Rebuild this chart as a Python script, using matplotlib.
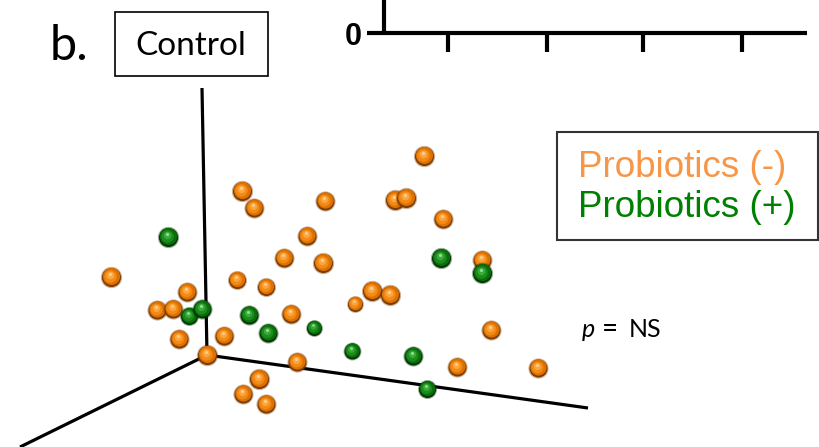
#!/usr/bin/env python3
"""PCoA panel b: Control group, probiotics (-) vs (+)."""

import matplotlib

matplotlib.use("Agg")
import matplotlib.pyplot as plt
from matplotlib.patches import Rectangle
from matplotlib.transforms import offset_copy

# projected PCoA positions (panel pixel space, y down)
neg_x = [242, 254, 325, 307, 284, 323, 111, 237, 266, 187, 157, 173, 291, 179, 224,
         207, 297, 424, 395, 406, 443, 482, 372, 390, 355, 491, 457, 538, 259, 243, 266]
neg_y = [191, 208, 201, 236, 258, 263, 277, 280, 287, 292, 310, 309, 314, 339, 336,
         355, 362, 156, 200, 198, 219, 260, 291, 295, 304, 330, 367, 368, 379, 394, 404]
neg_r = [9.5, 9, 9, 9, 9, 9.5, 9.5, 8.5, 8.5, 9, 9, 9, 9, 9, 9,
         9.5, 9, 9.5, 9.5, 9.5, 9, 9, 9.5, 9.5, 7.5, 9, 9, 9, 9.5, 9, 9]

pos_x = [168, 189, 202, 249, 314, 268, 441, 482, 352, 413, 427]
pos_y = [237, 316, 309, 315, 328, 333, 258, 273, 351, 356, 389]
pos_r = [9.5, 8.5, 9, 9, 7.5, 9, 9.5, 9.5, 8, 9, 8.5]

# 3D axis frame: origin and the three axis ends
axis_origin = (207, 355)
axis_ends = [(202, 88), (588, 408), (20, 447)]

# clipped bottom of the previous panel
prev_ticks = [448, 547, 643, 742]

ORANGE = ["#7a3a00", "#de7000", "#f28a16", "#fba640", "#ffd490"]
GREEN = ["#003300", "#0a6e0a", "#1c8c1c", "#3aaa3a", "#9ee29e"]


def sphere(ax, fig, x, y, r, shades, z):
    # layered discs fake the shaded ball look
    layers = [(1.12, shades[0], 0.0, 0.0, 0.4),
              (1.0, shades[0], 0.0, 0.0, 1.0),
              (0.9, shades[1], -0.3, 0.7, 1.0),
              (0.66, shades[2], -0.6, 1.5, 1.0),
              (0.4, shades[3], -0.8, 2.3, 1.0),
              (0.17, shades[4], -0.9, 3.0, 0.9)]
    for k, (scale, col, dx, dy, a) in enumerate(layers):
        tr = offset_copy(ax.transData, fig=fig, x=dx, y=dy, units="dots")
        d = 2 * r * scale * 0.72
        ax.scatter([x], [y], s=d ** 2, color=col, alpha=a, linewidths=0,
                   transform=tr, zorder=z + k * 0.01)


def main() -> int:
    fig = plt.figure(figsize=(8.19, 4.47), dpi=100)
    ax = fig.add_axes([0, 0, 1, 1])
    ax.set_xlim(0, 819)
    ax.set_ylim(447, 0)
    ax.axis("off")

    # previous panel remnant
    ax.plot([367, 807], [33, 33], color="black", lw=3, solid_capstyle="butt")
    ax.plot([384, 384], [0, 33], color="black", lw=3, solid_capstyle="butt")
    for t in prev_ticks:
        ax.plot([t, t], [33, 52], color="black", lw=3, solid_capstyle="butt")
    ax.text(362, 37, "0", fontsize=22, fontweight="bold", family="Liberation Sans",
            ha="right", va="center")

    ax.text(50, 60, "b.", fontsize=35, family="Lato", ha="left", va="baseline")
    ax.add_patch(Rectangle((115, 12), 153, 64, fill=False, ec="black", lw=1.2))
    ax.text(191, 46, "Control", fontsize=24, family="Lato", ha="center", va="center")

    ox, oy = axis_origin
    for ex, ey in axis_ends:
        ax.plot([ox, ex], [oy, ey], color="black", lw=2.3, solid_capstyle="butt", zorder=2)

    z = 3
    for x, y, r in zip(neg_x, neg_y, neg_r):
        sphere(ax, fig, x, y, r, ORANGE, z)
        z += 1
    for x, y, r in zip(pos_x, pos_y, pos_r):
        sphere(ax, fig, x, y, r, GREEN, z)
        z += 1

    ax.add_patch(Rectangle((557, 132), 261, 108, fill=False, ec="#333333", lw=1.5, zorder=1))
    ax.text(578, 177, "Probiotics (-)", fontsize=26.5, family="Liberation Sans",
            color="#f79646", va="baseline")
    ax.text(578, 217, "Probiotics (+)", fontsize=26.5, family="Liberation Sans",
            color="#008000", va="baseline")

    ax.text(582, 337, "p", fontsize=18, family="Lato", style="italic", va="baseline")
    ax.text(602, 337, "=", fontsize=20, family="Lato", va="baseline")
    ax.text(629, 337, "NS", fontsize=18, family="Lato", va="baseline")

    fig.savefig("out.png", dpi=100)
    plt.close(fig)
    return 0


if __name__ == "__main__":
    raise SystemExit(main())
